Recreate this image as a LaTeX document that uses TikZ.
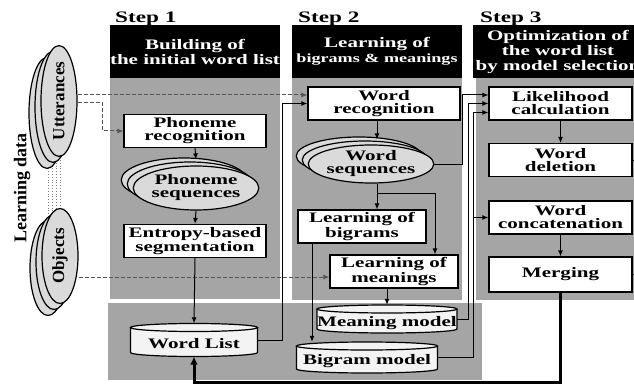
\documentclass[tikz,border=0pt]{standalone}
\usepackage{fontspec}
\setmainfont{Liberation Serif}
\newfontfamily\widefont{Liberation Serif}[FakeStretch=1.45]
\usetikzlibrary{shapes.geometric,shadows,arrows.meta}

\definecolor{panelgray}{RGB}{165,165,165}
\definecolor{ellgray}{RGB}{218,218,218}
\definecolor{cylgray}{RGB}{243,243,243}
\definecolor{dashgray}{RGB}{85,85,85}

\tikzset{box/.style = {draw, line width=1.2pt, fill=white, minimum width=#1, minimum height=33pt,
                       inner sep=0pt, align=center, font=\widefont\bfseries\fontsize{14.5}{13}\selectfont},
         box/.default=142pt,
         header/.style = {fill=black, text=white, minimum width=170pt, minimum height=53pt, inner sep=0pt,
                          align=center, font=\widefont\bfseries\fontsize{14.5}{15}\selectfont},
         steplabel/.style = {anchor=base west, inner sep=0pt, font=\widefont\bfseries\fontsize{16}{18}\selectfont},
         seqs/.style = {ellipse, draw, line width=1.2pt, fill=ellgray, inner sep=0pt, align=center,
                        font=\widefont\bfseries\fontsize{14.5}{13}\selectfont,
                        copy shadow={shadow xshift=-12pt, shadow yshift=8pt, fill=ellgray, draw=black, line width=1.2pt},
                        copy shadow={shadow xshift=-6pt, shadow yshift=4pt, fill=ellgray, draw=black, line width=1.2pt}},
         data/.style = {ellipse, draw, line width=1.2pt, fill=ellgray, inner sep=0pt,
                        minimum width=36pt, font=\bfseries\fontsize{17}{18}\selectfont,
                        copy shadow={shadow xshift=-12pt, shadow yshift=-12pt, fill=ellgray, draw=black, line width=1.2pt},
                        copy shadow={shadow xshift=-6pt, shadow yshift=-6pt, fill=ellgray, draw=black, line width=1.2pt}},
         cyl/.style = {line width=1.2pt, fill=cylgray},
         model/.style = {inner sep=0pt},
         modeltext/.style = {inner sep=0pt, font=\widefont\bfseries\fontsize{14.5}{13}\selectfont},
         arr/.style = {line width=1pt, -{Latex[length=6pt,width=5pt]}},
         dasharr/.style = {arr, dashgray, dash pattern=on 4pt off 2pt}
        }

\begin{document}
\begin{tikzpicture}[x=1pt, y=-1pt]
  \clip (0,0) rectangle (634,385);
  % gray panels
  \fill[panelgray] (110,78) rectangle (280,299);
  \fill[panelgray] (292,78) rectangle (462,300);
  \fill[panelgray] (476,78) rectangle (641,300);
  \fill[panelgray] (108,303) rectangle (482,380);

  % headers
  \node[steplabel] (s1) at (115,23) {Step 1};
  \node[steplabel] (s2) at (298,23) {Step 2};
  \node[steplabel] (s3) at (480,23) {Step 3};
  \node[header] (head1) at (195,51.5) {Building of\\the initial word list};
  \node[header] (head2) at (377,51.5) {Learning of\\{\fontsize{12.5}{15}\selectfont bigrams \& meanings}};
  \node[header] (head3) at (558,51.5) {Optimization of\\the word list\\by model selection};

  % learning data
  \node[rotate=90, font=\bfseries\fontsize{18}{18}\selectfont] (ldata) at (22,188) {Learning data};
  \foreach \x in {48,52,56,60} {\draw[gray, dotted, line width=0.8pt] (\x,160) -- (\x,214);};
  \node[data, minimum height=107pt] (utt) at (59,101) {\rotatebox{90}{Utterances}};
  \node[data, minimum height=95pt] (obj) at (60,256) {\rotatebox{90}{Objects}};

  % step 1
  \node[box] (phrec) at (195,131) {Phoneme\\recognition};
  \node[seqs, minimum width=112pt, minimum height=44pt] (phseq) at (196,188) {Phoneme\\sequences};
  \node[box] (entropy) at (195,241) {Entropy-based\\segmentation};

  % models (cylinders)
  \foreach \name/\cx/\cy/\w/\h/\txt in {wl/194/340/127/33/Word List, mm/387/319/140/28/Meaning model,
                                         bm/367/357.5/141/31/Bigram model} {
    \fill[cylgray] (\cx-\w/2,\cy-\h/2+4) -- (\cx-\w/2,\cy+\h/2-4)
        arc[start angle=180, end angle=0, x radius=\w/2, y radius=4] -- (\cx+\w/2,\cy-\h/2+4) -- cycle;
    \draw[line width=1.2pt] (\cx-\w/2,\cy-\h/2+4) -- (\cx-\w/2,\cy+\h/2-4)
        arc[start angle=180, end angle=0, x radius=\w/2, y radius=4] -- (\cx+\w/2,\cy-\h/2+4);
    \draw[cyl] (\cx,\cy-\h/2+4) ellipse[x radius=\w/2, y radius=4];
    \node[model, minimum width=\w*1pt, minimum height=\h*1pt] (\name) at (\cx,\cy) {};
    \node[modeltext] (\name-txt) at (\cx,\cy+4) {\txt};
  }

  % step 2
  \node[box=152pt] (wordrec) at (384,103.5) {Word\\recognition};
  \node[seqs, minimum width=115pt, minimum height=38pt] (wordseq) at (371,164) {Word\\sequences};
  \node[box=128pt] (bigr) at (362,226.5) {Learning of\\bigrams};
  \node[box=128pt] (meanl) at (394,271.5) {Learning of\\meanings};

  % step 3
  \node[box=143pt] (likeli) at (560.5,103.5) {Likelihood\\calculation};
  \node[box=143pt] (worddel) at (560.5,160) {Word\\deletion};
  \node[box=143pt] (wordcat) at (560.5,217.5) {Word\\concatenation};
  \node[box=143pt, minimum height=35pt] (merging) at (560.5,274.5) {Merging};

  % data flow
  \draw[dasharr] ([yshift=6pt]utt.east) -- ([yshift=6pt]utt.east -| wordrec.west);
  \draw[dasharr] ([yshift=-2pt]utt.east) -- ++(25,0) |- (phrec.west);
  \draw[dasharr] ([yshift=-21pt]obj.east) -- ([yshift=-21pt]obj.east -| meanl.west);

  \draw[arr] (phrec.south) -- ([yshift=6pt]phseq.north);
  \draw[arr] (phseq.south) -- (entropy.north);
  \draw[arr] (entropy.south) -- (wl.north);
  \draw[arr] (wl.east) -| ([xshift=-25pt]wordrec.west) -- (wordrec.west);

  \draw[arr] ([xshift=-7pt]wordrec.south) -- ([xshift=-7pt,yshift=5pt]wordrec.south |- wordseq.north);
  \draw[arr] ([xshift=6pt]wordseq.south) -- ([xshift=6pt]wordseq.south |- bigr.north);
  \draw[arr] ([xshift=6pt,yshift=-10pt]wordseq.south) -| ([xshift=41pt]meanl.north);
  \draw[arr] ([xshift=-50pt]bigr.south) -- ([xshift=-50pt]bigr.south |- bm.north);
  \draw[arr] (mm.north |- meanl.south) -- (mm.north);

  \draw[arr] (wordseq.east) -| ([xshift=-26pt,yshift=8.5pt]likeli.west) -- ([yshift=8.5pt]likeli.west);
  \draw[arr] (mm.east) -| ([xshift=-20pt]likeli.west) -- (likeli.west);
  \draw[arr] (bm.east) -| ([xshift=-15pt,yshift=-9pt]likeli.west) -- ([yshift=-9pt]likeli.west);
  \draw[arr] ([xshift=-15pt]wordcat.west) -- (wordcat.west);

  \draw[arr] (likeli.south) -- (worddel.north);
  \draw[arr] (wordcat.south) -- (merging.north);
  \draw[line width=1pt] (worddel.east) -- ++(10,0);
  \draw[line width=1pt] (merging.east) -- ++(10,0);
  \draw[line width=3pt, -{Latex[length=8pt,width=8pt]}] (merging.south) -- ++(0,90) -| (wl.south);
\end{tikzpicture}
\end{document}
